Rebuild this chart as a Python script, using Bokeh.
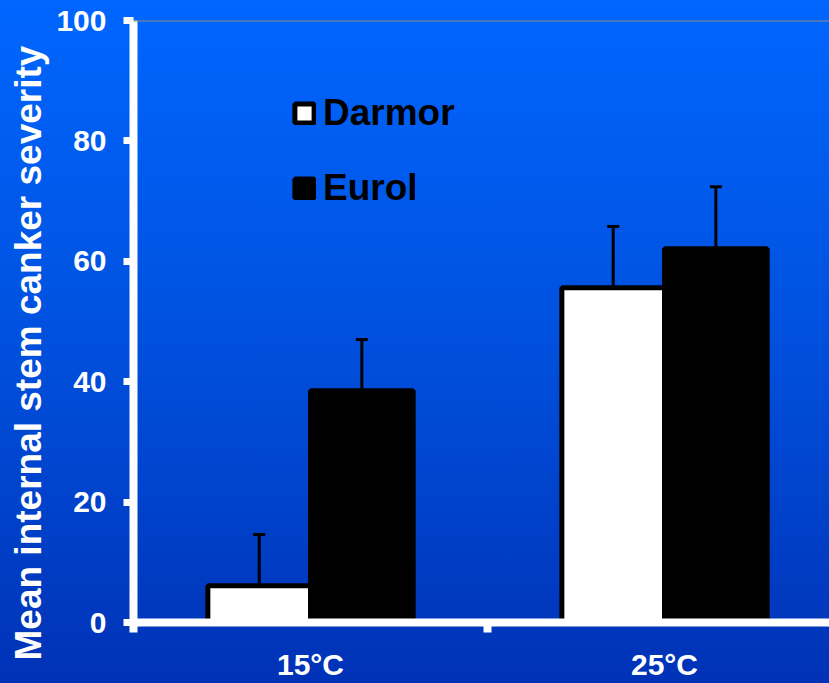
import numpy as np
from bokeh.plotting import figure
from bokeh.models import (ColumnDataSource, Range1d, FixedTicker, Whisker, TeeHead,
                          Legend, LegendItem, Span, Title, GlobalInlineStyleSheet)
from bokeh.transform import dodge
from bokeh.embed import file_html
from bokeh.resources import INLINE

# ---- data ----
categories = ["15°C", "25°C"]
series_names = ["Darmor", "Eurol"]
darmor = [6.1, 55.6]
darmor_err = [8.5, 10.2]
eurol = [38.5, 62.1]
eurol_err = [8.5, 10.3]
y_ticks = [0, 20, 40, 60, 80, 100]
y_title = "Mean internal stem canker severity"

FONT = "Liberation Sans"

x_centers = np.arange(len(categories)) + 0.5
boundaries = list(np.arange(len(categories) + 1))
src = ColumnDataSource(dict(
    x=x_centers,
    darmor=darmor,
    eurol=eurol,
    d_up=np.add(darmor, darmor_err),
    e_up=np.add(eurol, eurol_err),
))

p = figure(width=829, height=683, output_backend="svg", toolbar_location=None,
           x_range=Range1d(0, 1.966), y_range=Range1d(0, 100),
           min_border_left=133, min_border_right=0, min_border_top=20, min_border_bottom=61)
p.background_fill_alpha = 0
p.border_fill_alpha = 0
p.outline_line_color = None
p.xgrid.visible = False
p.ygrid.visible = False

p.stylesheets.append(GlobalInlineStyleSheet(
    css="html { background: linear-gradient(to bottom, #0066ff 0%, #0050dd 50%, #0032b6 100%) fixed; min-height: 100%; }"
))

bw = 0.29
off = 0.145
r_d = p.vbar(x=dodge("x", -off), top="darmor", width=bw, source=src,
             fill_color="white", line_color="black", line_width=5)
r_e = p.vbar(x=dodge("x", off), top="eurol", width=bw, source=src,
             fill_color="black", line_color="black", line_width=5)

for xo, lo, up in [(-off, "darmor", "d_up"), (off, "eurol", "e_up")]:
    w = Whisker(base=dodge("x", xo), lower=lo, upper=up, source=src, dimension="height",
                line_color="black", line_width=3,
                upper_head=TeeHead(size=12, line_width=3, line_color="black"),
                lower_head=None)
    p.add_layout(w)

p.add_layout(Span(location=100, dimension="width", line_color="#8a8a8a", line_width=2))

# y axis
ya = p.yaxis[0]
ya.ticker = FixedTicker(ticks=y_ticks)
ya.axis_line_color = "white"
ya.axis_line_width = 8
ya.major_tick_line_color = "white"
ya.major_tick_line_width = 7
ya.major_tick_out = 10
ya.major_tick_in = 0
ya.minor_tick_line_color = None
ya.major_label_text_color = "white"
ya.major_label_text_font = FONT
ya.major_label_text_font_style = "bold"
ya.major_label_text_font_size = "30px"
ya.major_label_standoff = 17

# x axis
xa = p.xaxis[0]
xa.ticker = FixedTicker(ticks=list(x_centers), minor_ticks=boundaries)
xa.major_label_overrides = {float(v): c for v, c in zip(x_centers, categories)}
xa.axis_line_color = "white"
xa.axis_line_width = 8
xa.major_tick_line_color = None
xa.major_tick_out = 0
xa.major_tick_in = 0
xa.minor_tick_line_color = "white"
xa.minor_tick_line_width = 8
xa.minor_tick_out = 10
xa.minor_tick_in = 0
xa.major_label_text_color = "white"
xa.major_label_text_font = FONT
xa.major_label_text_font_style = "bold"
xa.major_label_text_font_size = "30px"
xa.major_label_standoff = 15

# y title (left side)
p.add_layout(Title(text=y_title, align="left", offset=-38,
                   text_color="white", text_font=FONT, text_font_style="bold",
                   text_font_size="37px"), "left")

legend = Legend(items=[LegendItem(label=series_names[0], renderers=[r_d]),
                       LegendItem(label=series_names[1], renderers=[r_e])],
                location=(159, 413), orientation="vertical",
                background_fill_alpha=0, border_line_color=None,
                padding=0, margin=0, spacing=33,
                glyph_width=24, glyph_height=24, label_standoff=7,
                label_text_font=FONT, label_text_font_style="bold",
                label_text_font_size="37px", label_text_color="black")
p.add_layout(legend)

open("out.html", "w").write(file_html(p, INLINE))
